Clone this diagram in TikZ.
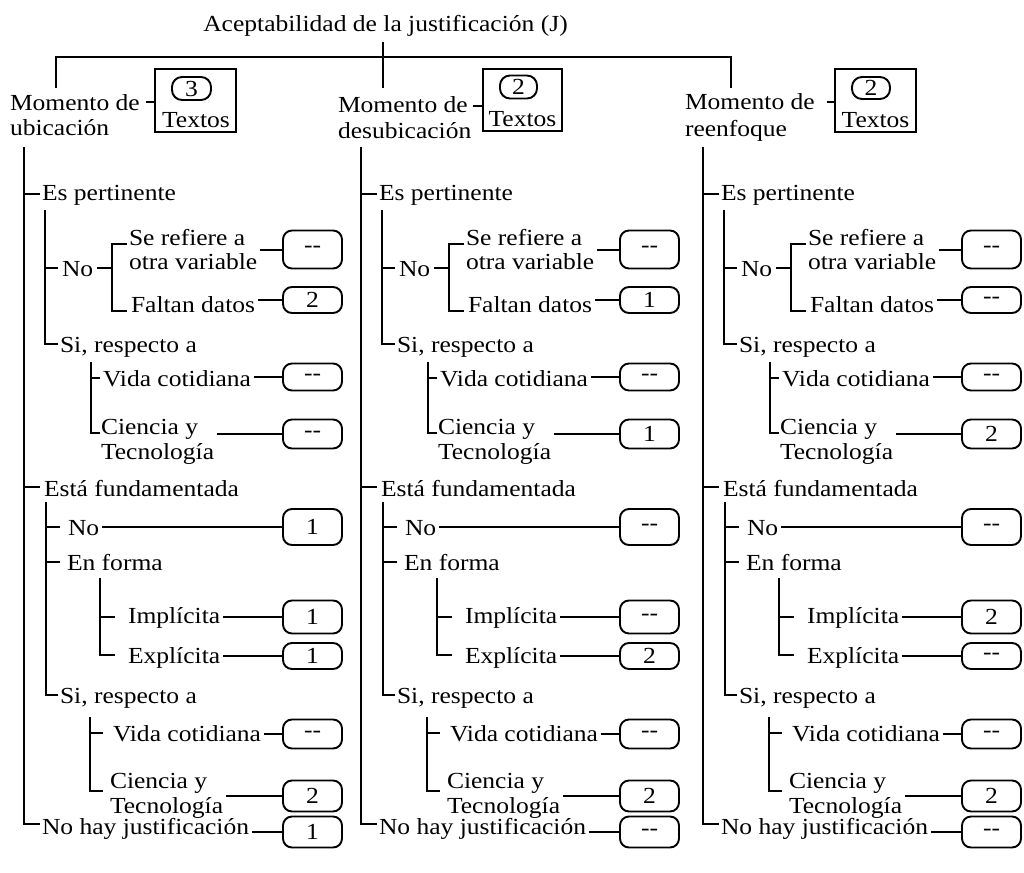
\documentclass[tikz,border=0pt]{standalone}
\usepackage{fontspec}
\setmainfont[FakeStretch=1.11]{Liberation Serif}
\newcommand\fsz{\fontsize{23pt}{25pt}\selectfont}
\newcommand\dd{-{}-}
\tikzset{
  every node/.style={inner sep=0pt, outer sep=0pt, font=\fsz},
  lbl/.style={anchor=base west, yshift=-1.5pt},
  vb/.style={draw, rounded corners=9pt, minimum width=59pt, line width=1.9pt},
  pill/.style={draw, rounded corners=10pt, line width=1.9pt},
  hbox/.style={draw, line width=1.9pt},
  tl/.style={line width=2.2pt},
  cn/.style={line width=2pt},
  trunkln/.style={line width=2.7pt},
}
\newcommand\mkcol[2]{%
\begin{scope}[xshift=#2pt]
\draw[trunkln] (24,147) -- (24,824) -- (40,824);
% Es pertinente
\draw[tl] (24,194) -- (40,194);
\node[lbl] (#1ep) at (42,199) {Es pertinente};
\draw[tl] (45,210) -- (45,344) -- (58,344);
\draw[tl] (45,268) -- (58,268);
\node[lbl] (#1pno) at (62,275) {No};
\draw[tl] (97,268) -- (112,268);
\draw[tl] (127,244) -- (112,244) -- (112,311) -- (127,311);
\node[lbl] (#1sr) at (129,244) {Se refiere a};
\node[lbl] (#1ov) at (129,268) {otra variable};
\node[lbl] (#1fd) at (131,311) {Faltan datos};
\node[lbl] (#1psi) at (60,351) {Si, respecto a};
\draw[tl] (91,362) -- (91,433) -- (100,433);
\draw[tl] (91,378) -- (100,378);
\node[lbl] (#1pvc) at (103,385) {Vida cotidiana};
\node[lbl] (#1pca) at (101,433) {Ciencia y};
\node[lbl] (#1pcb) at (101,458) {Tecnología};
% Esta fundamentada
\draw[tl] (24,487) -- (40,487);
\node[lbl] (#1ef) at (44,495) {Está fundamentada};
\draw[tl] (46,502) -- (46,695) -- (58,695);
\draw[tl] (46,527) -- (60,527);
\node[lbl] (#1fno) at (68,534) {No};
\draw[tl] (46,562) -- (60,562);
\node[lbl] (#1efo) at (67,569) {En forma};
\draw[tl] (100,578) -- (100,655) -- (115,655);
\draw[tl] (100,617) -- (115,617);
\node[lbl] (#1imp) at (128,622) {Implícita};
\node[lbl] (#1exp) at (128,662) {Explícita};
\node[lbl] (#1fsi) at (60,702) {Si, respecto a};
\draw[tl] (90,717) -- (90,791) -- (103,791);
\draw[tl] (90,733) -- (103,733);
\node[lbl] (#1fvc) at (113,740) {Vida cotidiana};
\node[lbl] (#1fca) at (110,787) {Ciencia y};
\node[lbl] (#1fcb) at (110,812) {Tecnología};
\node[lbl] (#1nh) at (42,833) {No hay justificación};
% value boxes
\node[vb, minimum height=38pt] (#1bA) at (312.5,249.5) {\vA};
\node[vb, minimum height=26pt] (#1bB) at (312.5,300) {\vB};
\node[vb, minimum height=27pt] (#1bC) at (312.5,377) {\vC};
\node[vb, minimum height=29pt] (#1bD) at (312.5,434) {\vD};
\node[vb, minimum height=36pt] (#1bE) at (312.5,527) {\vE};
\node[vb, minimum height=33pt] (#1bF) at (312.5,617) {\vF};
\node[vb, minimum height=26pt] (#1bG) at (312.5,656) {\vG};
\node[vb, minimum height=29pt] (#1bH) at (312.5,734) {\vH};
\node[vb, minimum height=31pt] (#1bI) at (312.5,796) {\vI};
\node[vb, minimum height=31pt] (#1bJ) at (312.5,832) {\vJ};
\foreach \t/\b in {ov/bA, fd/bB, pvc/bC, pcb/bD, fno/bE, imp/bF, exp/bG, fvc/bH, fcb/bI, nh/bJ}{
  \coordinate (#1\t-e) at ([xshift=3pt]#1\t.east);
  \draw[cn] (#1\t-e |- #1\b.west) -- (#1\b.west);
}
\end{scope}}
\begin{document}
\begin{tikzpicture}[x=1pt,y=-1pt]
\useasboundingbox (0,0) rectangle (1024,872);
\node[anchor=base] (title) at (385.5,32) {Aceptabilidad de la justificación (J)};
\draw[trunkln] (56,88) -- (56,57) -- (731,57) -- (731,88);
\draw[trunkln] (383,42) -- (383,88);
% headers
\node[lbl] (h1a) at (10,109) {Momento de};
\node[lbl] (h1b) at (10,134) {ubicación};
\draw[tl] (146,102) -- (155,102);
\draw[hbox] (155,69) rectangle (236,132);
\node[pill, minimum width=39pt, minimum height=23pt] (p1) at (191.5,88.5) {3};
\node[anchor=base] (t1) at (196,127) {Textos};
\node[lbl] (h2a) at (338,111) {Momento de};
\node[lbl] (h2b) at (338,137) {desubicación};
\draw[tl] (473,106) -- (483,106);
\draw[hbox] (483,69) rectangle (562,131);
\node[pill, minimum width=37pt, minimum height=23pt] (p2) at (518.5,87) {2};
\node[anchor=base] (t2) at (522.5,126) {Textos};
\node[lbl] (h3a) at (685,108) {Momento de};
\node[lbl] (h3b) at (685,135) {reenfoque};
\draw[tl] (827,102) -- (835,102);
\draw[hbox] (835,69) rectangle (916,132);
\node[pill, minimum width=38pt, minimum height=22pt] (p3) at (871,88) {2};
\node[anchor=base] (t3) at (875.5,127) {Textos};
% columns
\def\vA{\dd}\def\vB{2}\def\vC{\dd}\def\vD{\dd}\def\vE{1}\def\vF{1}\def\vG{1}\def\vH{\dd}\def\vI{2}\def\vJ{1}
\mkcol{a}{0}
\def\vA{\dd}\def\vB{1}\def\vC{\dd}\def\vD{1}\def\vE{\dd}\def\vF{\dd}\def\vG{2}\def\vH{\dd}\def\vI{2}\def\vJ{\dd}
\mkcol{b}{337}
\def\vA{\dd}\def\vB{\dd}\def\vC{\dd}\def\vD{2}\def\vE{\dd}\def\vF{2}\def\vG{\dd}\def\vH{\dd}\def\vI{2}\def\vJ{\dd}
\mkcol{c}{679}
\end{tikzpicture}
\end{document}
